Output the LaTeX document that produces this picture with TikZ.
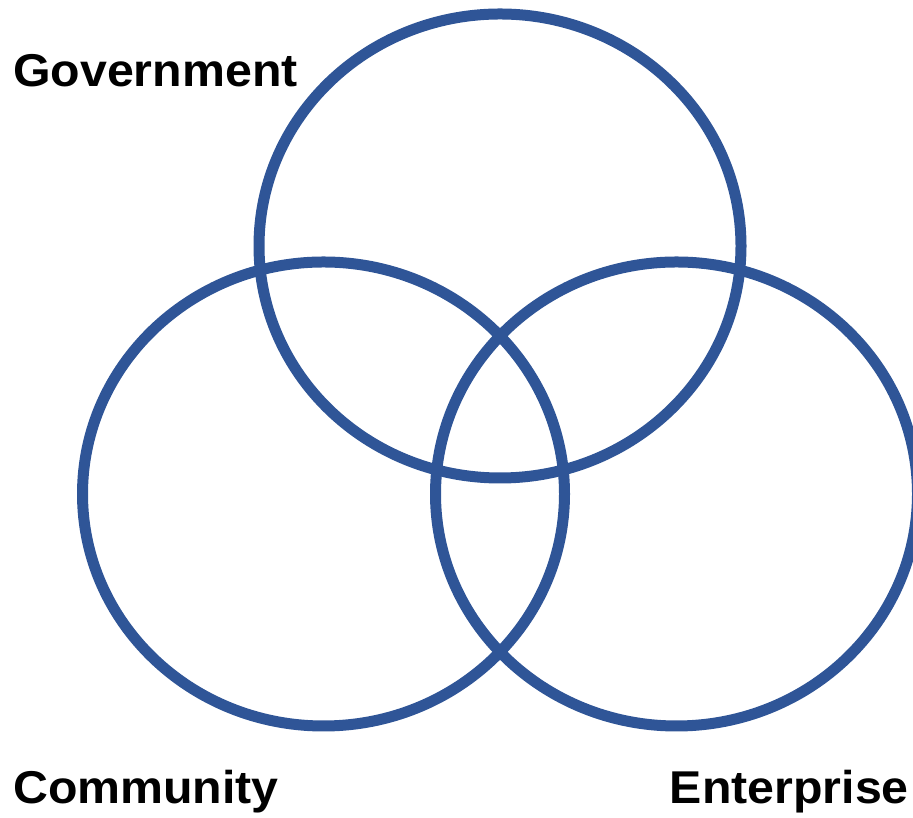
\documentclass[tikz,border=0pt]{standalone}
\usepackage{fontspec}
\setmainfont{Liberation Sans}
\newfontfamily\labelfont{Liberation Sans}[FakeStretch=1.05]
\definecolor{ringblue}{RGB}{47,85,151}
\tikzset{
    ring/.style={draw=ringblue, line width=11pt},
    sector/.style={inner sep=0pt, font=\labelfont\fontsize{46}{55}\selectfont\bfseries}
}
\begin{document}
\begin{tikzpicture}[x=1pt, y=1pt]
        \useasboundingbox (0, 0) rectangle (913, 818);

        % three rings
        \foreach \cx/\cy in {500/572, 323.5/324, 676.5/324} {
            \draw[ring] (\cx, \cy) ellipse (241 and 232);
        }

        % labels
        \node[sector, anchor=base west] (gov) at (13, 731) {Government};
        \node[sector, anchor=base west] (com) at (13, 14) {Community};
        \node[sector, anchor=base east] (ent) at (909, 14) {Enterprise};

    \end{tikzpicture}
\end{document}
